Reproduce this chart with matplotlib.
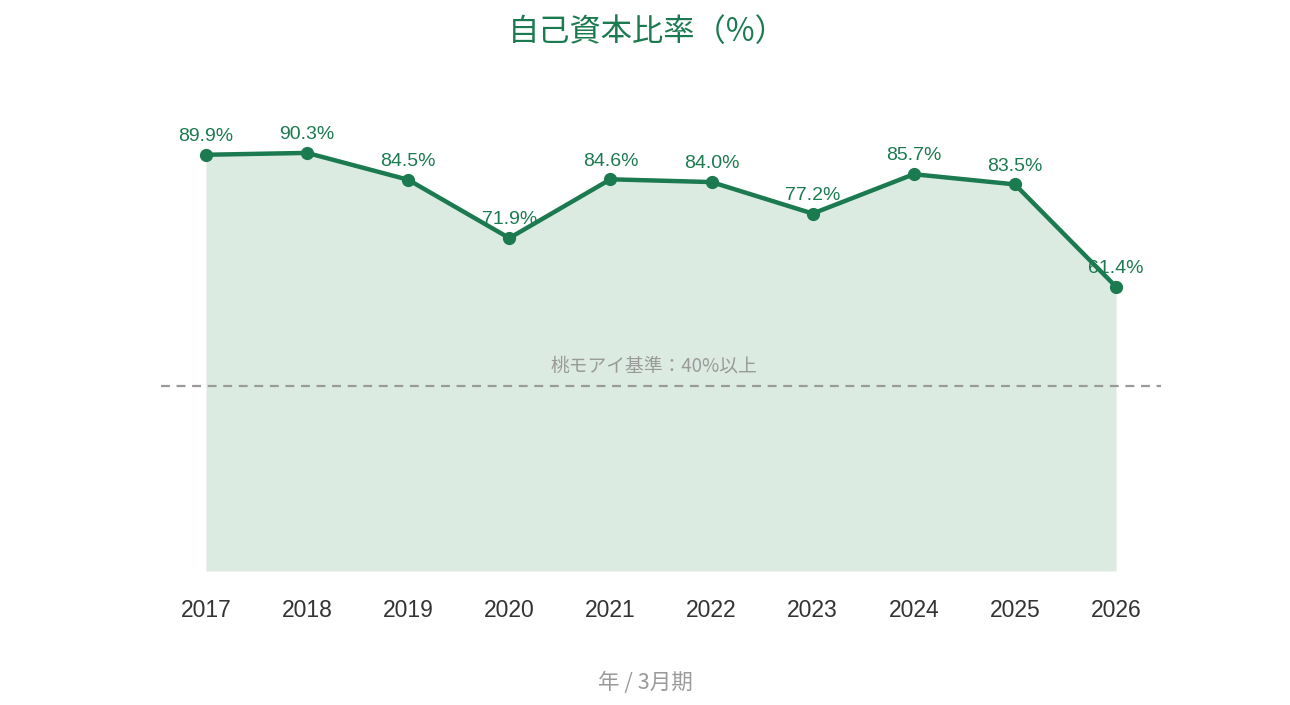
import matplotlib.pyplot as plt

plt.rcParams["font.family"] = ["Liberation Sans", "Noto Sans CJK JP", "DejaVu Sans"]

years = [2017, 2018, 2019, 2020, 2021, 2022, 2023, 2024, 2025, 2026]
ratios = [89.9, 90.3, 84.5, 71.9, 84.6, 84.0, 77.2, 85.7, 83.5, 61.4]
threshold = 40
threshold_label = "桃モアイ基準：40%以上"
title = "自己資本比率（%）"
xlabel = "年 / 3月期"

GREEN = "#1b7a4f"
FILL = "#dcebe2"
GRAY = "#9a9a9a"
CJK = ["Noto Sans CJK JP", "Liberation Sans"]

fig = plt.figure(figsize=(12.9, 7.05), dpi=100)
ax = fig.add_axes([161 / 1290, 1 - 571 / 705, 1000 / 1290, (571 - 108) / 705])

ax.fill_between(years, ratios, 0, color=FILL, linewidth=0, zorder=1)
ax.axhline(threshold, color=GRAY, linestyle=(0, (4, 3)), linewidth=1.6, zorder=2)
ax.text(2021.43, threshold + 2.0, threshold_label,
        ha="center", va="bottom", fontsize=13.5, color=GRAY, family=CJK, zorder=3)

for x, y in zip(years, ratios):
    ax.annotate(f"{y:.1f}%", (x, y), xytext=(0, 7), textcoords="offset points",
                ha="center", va="bottom", fontsize=14, color=GREEN, zorder=3)

ax.plot(years, ratios, color=GREEN, linewidth=3.2, marker="o", markersize=8.5, zorder=4)

pad = 0.445
ax.set_xlim(years[0] - pad, years[-1] + pad)
ax.set_ylim(0, 100)
ax.set_xticks(years)
ax.set_xticklabels([str(y) for y in years], fontsize=16.5, color="#333333")
ax.tick_params(axis="x", length=0, pad=20)
ax.set_yticks([])
for side in ax.spines.values():
    side.set_visible(False)

fig.text(647 / 1290, 1 - 32 / 705, title, ha="center", va="center", fontsize=22.5,
         color=GREEN, family=CJK)
fig.text(645 / 1290, 1 - 683 / 705, xlabel, ha="center", va="center", fontsize=15.5,
         color=GRAY, family=CJK)

fig.savefig("out.png", dpi=100)
